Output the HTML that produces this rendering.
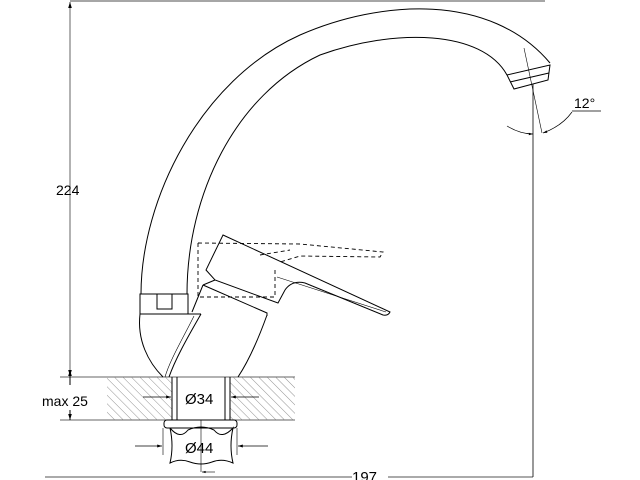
<!DOCTYPE html>
<html><head><meta charset="utf-8"><style>
html,body{margin:0;padding:0;background:#fff;}
svg{display:block;}
text{font-family:"Liberation Sans",sans-serif;fill:#000;}
</style></head><body>
<svg width="640" height="480" viewBox="0 0 640 480" xmlns="http://www.w3.org/2000/svg">
<defs>
<pattern id="h" width="6" height="6" patternUnits="userSpaceOnUse" patternTransform="rotate(-45)">
<line x1="0" y1="0" x2="0" y2="6" stroke="#777" stroke-width="0.8"/>
</pattern>
<marker id="a" viewBox="0 0 10 10" refX="10" refY="5" markerWidth="8" markerHeight="6" orient="auto-start-reverse"><path d="M0,2 L10,5 L0,8z" fill="#000"/></marker>
</defs>
<g fill="none" stroke="#000" stroke-width="1">
<line x1="70" y1="1" x2="545" y2="1" stroke="#888" stroke-width="1.5"/>
<line x1="70" y1="2" x2="70" y2="376" stroke="#666" marker-start="url(#a)" marker-end="url(#a)"/>
<line x1="60" y1="377" x2="295" y2="377" stroke="#666"/>
<line x1="60" y1="420" x2="295" y2="420" stroke="#666"/>
<line x1="70" y1="370" x2="70" y2="385" marker-start="url(#a)"/>
<line x1="70" y1="410" x2="70" y2="420" marker-end="url(#a)"/>
<rect x="107" y="377" width="65" height="43" fill="url(#h)" stroke="none"/>
<rect x="230" y="377" width="65" height="43" fill="url(#h)" stroke="none"/>
<line x1="172" y1="377" x2="172" y2="420"/><line x1="177" y1="377" x2="177" y2="420"/>
<line x1="225" y1="377" x2="225" y2="420"/><line x1="230" y1="377" x2="230" y2="420"/>
<line x1="143" y1="397" x2="171" y2="397" stroke-width="0.8" marker-end="url(#a)"/>
<line x1="259" y1="397" x2="231" y2="397" stroke-width="0.8" marker-end="url(#a)"/>
<rect x="164" y="420" width="73" height="8" rx="3"/>
<path d="M170,428 Q180,440 188,430 Q201,424 214,430 Q222,440 233,428 Q229,446 233,463 Q222,458 212,462 Q201,466 190,462 Q180,458 170,463 Q174,446 170,428z"/>
<line x1="163" y1="428" x2="163" y2="455" stroke-width="0.6"/>
<line x1="237" y1="428" x2="237" y2="455" stroke-width="0.6"/>
<line x1="135" y1="446" x2="162" y2="446" stroke-width="0.8" marker-end="url(#a)"/>
<line x1="268" y1="446" x2="238" y2="446" stroke-width="0.8" marker-end="url(#a)"/>
<line x1="201" y1="420" x2="201" y2="472" stroke-width="0.6"/>
<line x1="45" y1="477" x2="533" y2="477" stroke="#555"/>
<line x1="215" y1="472" x2="202" y2="472" stroke-width="0.6" marker-end="url(#a)"/>
<line x1="533" y1="84" x2="533" y2="477" stroke-width="0.8"/>
<path d="M141,294 C141,200 200,80 300,35 C380,0 490,-8 550,63"/>
<path d="M187,294 C187,195 235,95 320,55 C395,28 482,30 507,75"/>
<path d="M507,75 L550,65 L548,80 L514,89 Z"/>
<line x1="510" y1="82" x2="549" y2="73"/>
<line x1="524" y1="48" x2="542" y2="133" stroke-width="0.6"/>
<path d="M507,126 Q520,134 533,134" stroke-width="0.7" marker-end="url(#a)"/>
<path d="M572,112 Q562,126 543,133" stroke-width="0.7" marker-end="url(#a)"/>
<line x1="572" y1="111" x2="601" y2="111" stroke-width="0.7"/>
<rect x="140" y="294" width="48" height="20"/>
<rect x="157" y="294" width="15" height="15"/>
<path d="M140,314 C137,340 148,362 163,377"/>
<path d="M188,314 L201,314"/>
<path d="M201,314 C186,340 175,360 169,377"/>
<path d="M194,316 C182,340 170,360 165,377" stroke-width="0.6"/>
<path d="M267,315 C258,340 248,362 238,377"/>
<path d="M203,285 L192,312 M203,285 L267,313 L267,316"/>
<path d="M223,235 L390,312 Q388,316 383,315 L305,283 Q292,280 285,290 L278,303 L215,280 L206,270 Z"/>
<line x1="277" y1="277" x2="386" y2="312" stroke-width="0.6"/>
<line x1="215" y1="280" x2="203" y2="285"/>
<g stroke-dasharray="4,3" stroke-width="0.9">
<path d="M198,243 L198,297 L275,297 L275,270"/>
<path d="M198,243 L300,244 L383,252 L380,257 L300,256 L280,262"/>
<line x1="260" y1="255" x2="290" y2="250"/>
</g>
</g>
<text x="56" y="195" font-size="14">224</text>
<text x="42" y="406" font-size="14">max 25</text>
<text x="185" y="404" font-size="15">Ø34</text>
<text x="185" y="453" font-size="15">Ø44</text>
<rect x="352" y="467" width="36" height="13" fill="#fff"/>
<text x="352" y="482" font-size="15">197</text>
<text x="574" y="108" font-size="14">12°</text>
</svg>
</body></html>
